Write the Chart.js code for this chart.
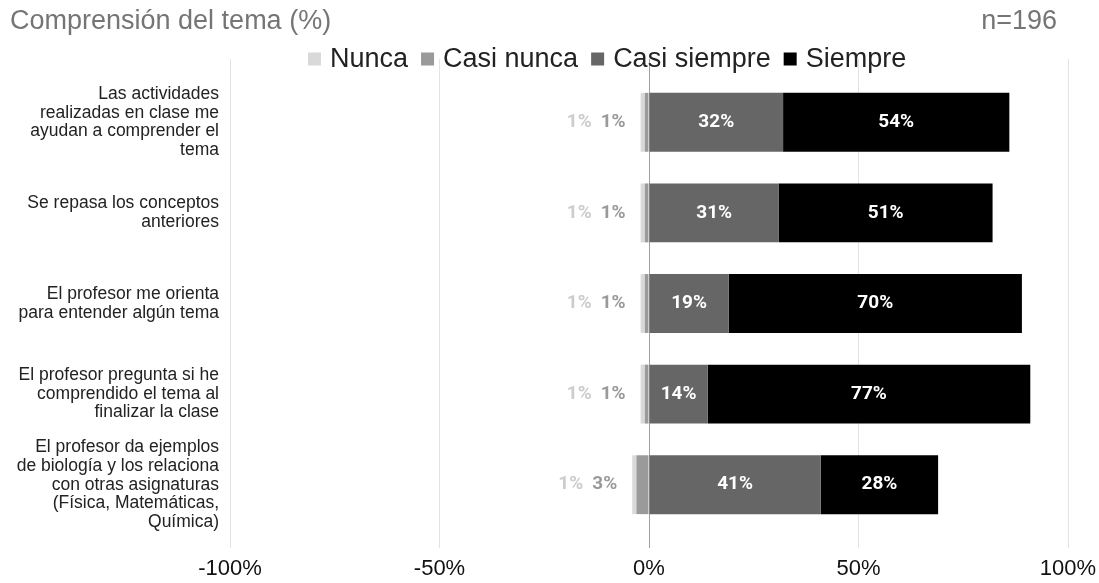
<!DOCTYPE html>
<html>
<head>
<meta charset="utf-8">
<script src="https://cdn.jsdelivr.net/npm/chart.js@4/dist/chart.umd.min.js"></script>
<style>
  html, body { margin: 0; padding: 0; background: #fff; }
  #wrap { width: 1099px; height: 583px; position: relative; }
</style>
</head>
<body>
<div id="wrap"><canvas id="likert"></canvas></div>
<script>
const questions = [
    ['Las actividades', 'realizadas en clase me', 'ayudan a comprender el', 'tema'],
    ['Se repasa los conceptos', 'anteriores'],
    ['El profesor me orienta', 'para entender algún tema'],
    ['El profesor pregunta si he', 'comprendido el tema al', 'finalizar la clase'],
    ['El profesor da ejemplos', 'de biología y los relaciona', 'con otras asignaturas', '(Física, Matemáticas,', 'Química)']
];
const nunca = [1, 1, 1, 1, 1];
const casiNunca = [1, 1, 1, 1, 3];
const casiSiempre = [32, 31, 19, 14, 41];
const siempre = [54, 51, 70, 77, 28];
const xTicks = [-100, -50, 0, 50, 100];

const seriesNames = ['Nunca', 'Casi nunca', 'Casi siempre', 'Siempre'];
const seriesColors = ['#d9d9d9', '#9a9a9a', '#666666', '#000000'];
const FONT = '"Liberation Sans", Arial, sans-serif';

// labels, title and legend drawn by hand
const decorations = {
    id: 'decorations',
    afterDatasetsDraw(chart) {
        const ctx = chart.ctx;
        ctx.save();
        ctx.textBaseline = 'middle';
        ctx.font = 'bold 19px Roboto, sans-serif';
        chart.data.datasets.forEach((ds, di) => {
            if (ds.side !== 'pos') return;
            chart.getDatasetMeta(di).data.forEach((bar, i) => {
                ctx.fillStyle = '#ffffff';
                ctx.textAlign = 'center';
                ctx.fillText(ds.raw[i] + '%', (bar.x + bar.base) / 2, bar.y);
            });
        });
        // negative side: labels outside, left of the stack
        const nMeta = chart.getDatasetMeta(1);
        nMeta.data.forEach((bar, i) => {
            const left = Math.min(bar.x, bar.base);
            const cnText = casiNunca[i] + '%';
            const nText = nunca[i] + '%';
            ctx.textAlign = 'right';
            const cnRight = left - 15;
            ctx.fillStyle = '#9a9a9a';
            ctx.fillText(cnText, cnRight, bar.y);
            const nRight = cnRight - ctx.measureText(cnText).width - 9;
            ctx.fillStyle = '#cccccc';
            ctx.fillText(nText, nRight, bar.y);
        });

        // title + n
        ctx.font = '27px ' + FONT;
        ctx.fillStyle = '#757575';
        ctx.textAlign = 'left';
        ctx.fillText('Comprensión del tema (%)', 10, 22);
        ctx.textAlign = 'right';
        ctx.fillText('n=196', 1057, 22);

        // legend
        let x = 308;
        const y = 59;
        ctx.textAlign = 'left';
        seriesNames.forEach((name, k) => {
            ctx.fillStyle = seriesColors[k];
            ctx.fillRect(x, y - 6.5, 13, 13);
            x += 13 + 9;
            ctx.fillStyle = '#222222';
            ctx.fillText(name, x, y + 1);
            x += ctx.measureText(name).width + 13;
        });
        ctx.restore();
    }
};

const gridColor = c => c.tick && c.tick.value === 0 ? '#a0a0a0' : '#e3e3e3';

const ctx = document.getElementById('likert').getContext('2d');
const likert = new Chart(ctx, {
    type: 'bar',
    data: {
        labels: questions,
        datasets: [
            { label: 'Casi nunca', data: casiNunca.map(v => -v), raw: casiNunca, side: 'neg', backgroundColor: seriesColors[1] },
            { label: 'Nunca', data: nunca.map(v => -v), raw: nunca, side: 'neg', backgroundColor: seriesColors[0] },
            { label: 'Casi siempre', data: casiSiempre, raw: casiSiempre, side: 'pos', backgroundColor: seriesColors[2] },
            { label: 'Siempre', data: siempre, raw: siempre, side: 'pos', backgroundColor: seriesColors[3] }
        ]
    },
    options: {
        indexAxis: 'y',
        responsive: true,
        maintainAspectRatio: false,
        animation: false,
        layout: { padding: { top: 59, right: 31, bottom: 1, left: 0 } },
        datasets: { bar: { categoryPercentage: 1, barPercentage: 0.65 } },
        plugins: {
            legend: { display: false },
            tooltip: { enabled: false }
        },
        scales: {
            x: {
                stacked: true,
                min: -100,
                max: 100,
                afterBuildTicks: s => { s.ticks = xTicks.map(v => ({ value: v })); },
                afterFit: s => { s.height = 52; s.paddingRight = 31; },
                ticks: {
                    padding: 8,
                    color: '#111',
                    font: { family: FONT, size: 22 },
                    callback: v => v + '%'
                },
                grid: { color: gridColor, tickLength: 18 },
                border: { display: false }
            },
            x2: {
                position: 'top',
                min: -100,
                max: 100,
                afterBuildTicks: s => { s.ticks = xTicks.map(v => ({ value: v })); },
                afterFit: s => { s.paddingRight = 31; },
                ticks: { display: false },
                grid: { color: gridColor, tickLength: 18 },
                border: { display: false }
            },
            y: {
                stacked: true,
                afterFit: s => { s.width = 230; },
                ticks: {
                    autoSkip: false,
                    padding: 3,
                    color: '#222',
                    font: { family: FONT, size: 17.5, lineHeight: 1.06 }
                },
                grid: { display: false },
                border: { display: false }
            }
        }
    },
    plugins: [decorations]
});
</script>
</body>
</html>
